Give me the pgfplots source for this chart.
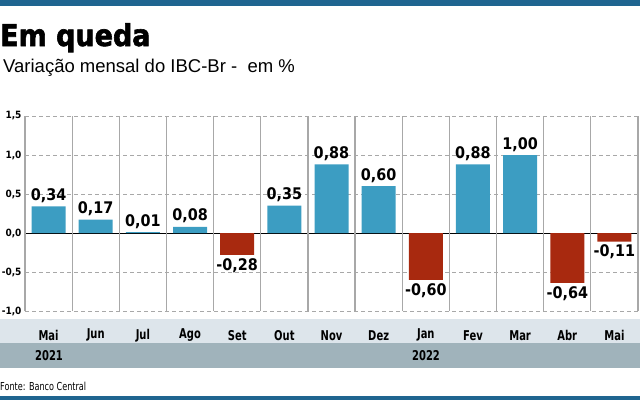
\documentclass[border=0pt]{standalone}
\usepackage{pgfplots}
\pgfplotsset{compat=1.18}
\usepackage{fontspec}
\setmainfont{DejaVu Sans Condensed}
\newfontfamily\subfont{Liberation Sans}
\newfontfamily\titlefont[FakeBold=2]{DejaVu Sans Condensed Bold}
\newfontfamily\condfont[FakeStretch=0.82]{DejaVu Sans Condensed}
\definecolor{topblue}{HTML}{1F6590}
\definecolor{barblue}{HTML}{3C9DC2}
\definecolor{barred}{HTML}{A8290F}
\definecolor{monthband}{HTML}{DDE5EB}
\definecolor{yearband}{HTML}{A0B3BB}
\definecolor{gridgray}{HTML}{A8A8A8}

\begin{document}
\begin{tikzpicture}
% frame
\path[use as bounding box] (0pt,0pt) rectangle (640pt,-400pt);
\fill[topblue] (0pt,0pt) rectangle (640pt,-6pt);
\fill[topblue] (0pt,-396pt) rectangle (640pt,-400pt);
% title block
\node[anchor=base west, inner sep=0pt, font=\titlefont\fontsize{30}{30}\selectfont] at (0pt,-46pt) {Em queda};
\node[anchor=base west, inner sep=0pt, font=\subfont\fontsize{18.5}{18.5}\selectfont] at (3pt,-72pt) {Variação mensal do IBC-Br -\ \ em \%};
% bands under the plot
\fill[monthband] (0pt,-319pt) rectangle (640pt,-343pt);
\fill[yearband] (0pt,-343pt) rectangle (640pt,-368pt);
\node[anchor=base west, inner sep=0pt, font=\condfont\fontsize{11}{11}\selectfont] at (0pt,-390pt) {Fonte: Banco Central};

\begin{axis}[
    scale only axis,
    width=613pt, height=195pt,
    at={(25pt,-311pt)}, anchor=south west,
    xmin=-0.5, xmax=12.5,
    ymin=-1, ymax=1.5,
    axis line style={draw=none},
    tick style={draw=none},
    /pgf/number format/assume math mode=true,
    ytick={-1,-0.5,0.5,1,1.5},
    extra y ticks={0},
    extra y tick style={grid style={black, solid, line width=1pt}},
    yticklabel={\pgfmathprintnumber[fixed, fixed zerofill, precision=1, use comma]{\tick}},
    yticklabel style={font=\bfseries\fontsize{10}{10}\selectfont},
    ymajorgrids,
    grid style={gridgray, dash pattern=on 4pt off 3pt, line width=0.8pt},
    xtick={0,...,12},
    xticklabels={Mai,Jun,Jul,Ago,Set,Out,Nov,Dez,Jan,Fev,Mar,Abr,Mai},
    xticklabel style={font=\condfont\bfseries\fontsize{13.5}{13.5}\selectfont, anchor=center, yshift=-20pt},
    ybar, bar width=34pt, bar shift=0pt,
    nodes near coords,
    nodes near coords align={vertical},
    every node near coord/.append style={font=\bfseries\fontsize{16}{16}\selectfont, text=black,
        /pgf/number format/.cd, fixed, fixed zerofill, precision=2, use comma, assume math mode=true},
    clip=false,
]
\pgfplotsinvokeforeach{-0.5,0.5,...,12.5}{
  \draw[gridgray, line width=1.2pt] (axis cs:#1,-1) -- (axis cs:#1,1.5);
}
\addplot[fill=barblue, draw=none] coordinates {
    (0,0.34) (1,0.17) (2,0.01) (3,0.08) (5,0.35) (6,0.88) (7,0.60) (9,0.88) (10,1.00)
};
\addplot[fill=barred, draw=none] coordinates {
    (4,-0.28) (8,-0.60) (11,-0.64) (12,-0.11)
};
\end{axis}
\node[anchor=center, font=\condfont\bfseries\fontsize{13.5}{13.5}\selectfont] at (49pt,-356pt) {2021};
\node[anchor=center, font=\condfont\bfseries\fontsize{13.5}{13.5}\selectfont] at (426pt,-356pt) {2022};
\end{tikzpicture}
\end{document}
